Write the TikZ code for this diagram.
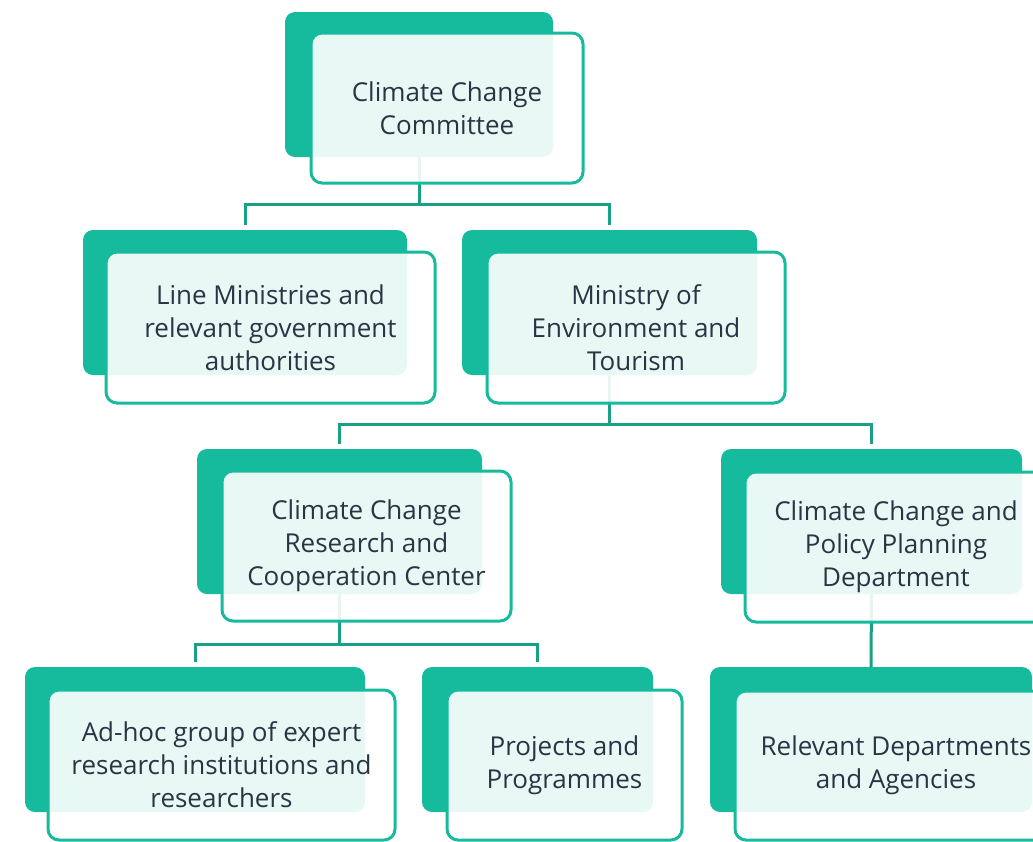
\documentclass[tikz,border=0pt]{standalone}
\usepackage{fontspec}
\setmainfont{Open Sans}
\definecolor{teal1}{RGB}{22,187,157}
\definecolor{connc}{RGB}{26,160,134}
\definecolor{txt}{RGB}{42,52,68}
\begin{document}
\begin{tikzpicture}[x=1pt,y=-1pt,
  backbox/.style={fill=teal1,rounded corners=10pt,inner sep=0pt,outer sep=0pt},
  frontbox/.style={fill=white,fill opacity=0.9,text opacity=1,draw=teal1,line width=3pt,rounded corners=11pt,inner sep=0pt,outer sep=0pt,align=center,text=txt,font=\fontsize{26}{33}\selectfont},
  conn/.style={draw=connc,line width=3pt}]
\useasboundingbox (0,0) rectangle (1033,841);
% back boxes
\node[backbox,minimum width=268pt,minimum height=145pt] (bT) at (419,84.5) {};
\node[backbox,minimum width=324pt,minimum height=145pt] (bL) at (245,302.5) {};
\node[backbox,minimum width=295pt,minimum height=145pt] (bM) at (609.5,302.5) {};
\node[backbox,minimum width=285pt,minimum height=145pt] (bR) at (339.5,521.5) {};
\node[backbox,minimum width=301pt,minimum height=145pt] (bP) at (871.5,521.5) {};
\node[backbox,minimum width=340pt,minimum height=145pt] (bA) at (195,739.5) {};
\node[backbox,minimum width=231pt,minimum height=145pt] (bPr) at (537.5,739.5) {};
\node[backbox,minimum width=322pt,minimum height=145pt] (bRel) at (871,739.5) {};
% connectors
\draw[conn] (bT.south) -- ++(0,47) coordinate (j1);
\draw[conn,shorten >=5pt] (j1) -| (bL.north);
\draw[conn,shorten >=5pt] (j1) -| (bM.north);
\draw[conn] (bM.south) -- ++(0,49) coordinate (j2);
\draw[conn,shorten >=5pt] (j2) -| (bR.north);
\draw[conn,shorten >=5pt] (j2) -| (bP.north);
\draw[conn] (bR.south) -- ++(0,50) coordinate (j3);
\draw[conn,shorten >=5pt] (j3) -| (bA.north);
\draw[conn,shorten >=5pt] (j3) -| (bPr.north);
\draw[conn] (bP.south) -- (bRel.north);
% front boxes
\node[frontbox,minimum width=272pt,minimum height=150pt] (fT) at (447,108) {Climate Change\\Committee};
\node[frontbox,minimum width=329pt,minimum height=151pt] (fL) at (270.5,327.5) {Line Ministries and\\relevant government\\authorities};
\node[frontbox,minimum width=298pt,minimum height=151pt] (fM) at (636,327.5) {Ministry of\\Environment and\\Tourism};
\node[frontbox,minimum width=289pt,minimum height=150pt] (fR) at (366.5,546) {Climate Change\\Research and\\Cooperation Center};
\node[frontbox,minimum width=302pt,minimum height=150pt] (fP) at (896,547) {Climate Change and\\Policy Planning\\Department};
\node[frontbox,minimum width=347pt,minimum height=150pt] (fA) at (221.5,765) {Ad-hoc group of expert\\research institutions and\\researchers};
\node[frontbox,minimum width=235pt,minimum height=150pt] (fPr) at (564.5,765) {Projects and\\Programmes};
\node[frontbox,minimum width=322pt,minimum height=149pt] (fRel) at (896,765.5) {Relevant Departments\\and Agencies};
\end{tikzpicture}
\end{document}
